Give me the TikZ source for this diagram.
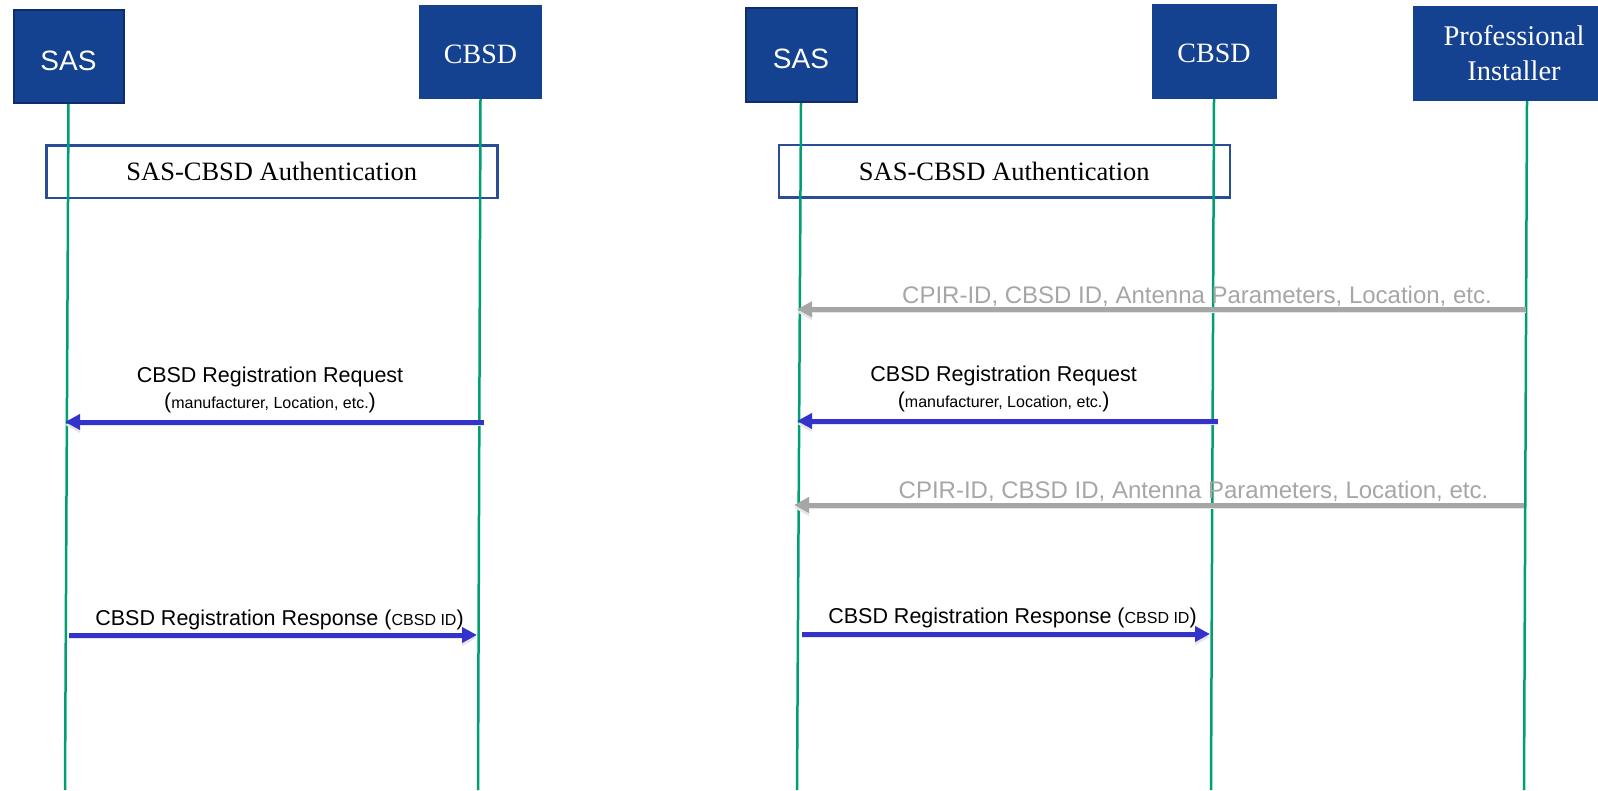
\documentclass[tikz,border=0pt]{standalone}
\usepackage{fontspec}
\setmainfont{Liberation Serif}
\setsansfont{Liberation Sans}
\usetikzlibrary{arrows.meta}

\definecolor{boxblue}{RGB}{21,65,145}
\definecolor{boxedge}{RGB}{14,45,105}
\definecolor{authblue}{RGB}{40,78,150}
\definecolor{lifegreen}{RGB}{0,158,115}
\definecolor{msgblue}{RGB}{51,51,204}
\definecolor{msggray}{RGB}{166,166,166}

\newcommand{\bigparen}[1]{{\fontsize{21.5}{26}\selectfont#1}}
\newcommand{\smalltext}[1]{{\fontsize{16}{19}\selectfont#1}}

\tikzset{
  actor/.style={rectangle, fill=boxblue, text=white, inner sep=0pt, text height=23pt, text depth=0pt, font=\fontsize{28}{34}\selectfont},
  sasbox/.style={actor, draw=boxedge, line width=2pt, text height=27pt, font=\sffamily\fontsize{28}{34}\selectfont},
  auth/.style={rectangle, draw=authblue, line width=2.5pt, inner sep=0pt, minimum width=451pt, minimum height=52.5pt, font=\fontsize{26.5}{32}\selectfont},
  life/.style={draw=lifegreen, line width=2.5pt},
  msg/.style={draw=msgblue, line width=5pt, -{Triangle[length=15pt,width=15pt]}, preaction={draw=black!10, transform canvas={yshift=-3pt}}},
  info/.style={msg, draw=msggray},
  big/.style={font=\sffamily\fontsize{21.5}{26}\selectfont, inner sep=0pt},
  small/.style={font=\sffamily\fontsize{16}{19}\selectfont, inner sep=0pt},
  graytext/.style={font=\sffamily\fontsize{24}{28}\selectfont, text=msggray, inner sep=0pt}
}

\begin{document}
\begin{tikzpicture}[x=1pt,y=-1pt]
      \useasboundingbox (0,0) rectangle (1598,790);

      % BOITES GAUCHE
      \node[sasbox, minimum width=110pt, minimum height=93pt] (SAS) at (68.5,56.5) {SAS};
      \node[actor, minimum width=123pt, minimum height=94pt] (CBSD) at (480.5,52) {CBSD};
      \node[auth] (AUTH) at (271.8,171.5) {SAS-CBSD Authentication};

      % BOITES DROITE
      \node[sasbox, minimum width=111pt, minimum height=94pt] (SAS2) at (801,55) {SAS};
      \node[actor, minimum width=125pt, minimum height=95pt] (CBSD2) at (1214,51.4) {CBSD};
      \node[actor, align=center, text height=, text depth=, font=\fontsize{28.5}{35}\selectfont, minimum width=202pt, minimum height=95pt] (PI2) at (1514,53.4) {Professional\\Installer};
      \node[auth] (AUTH2) at (1004.3,171) {SAS-CBSD Authentication};

      % LIGNES DE VIE
      \coordinate (SASb) at (65,790);
      \coordinate (CBSDb) at (478,790);
      \coordinate (SAS2b) at (797,790);
      \coordinate (CBSD2b) at (1211,790);
      \coordinate (PI2b) at (1524,790);
      \draw[life] (SAS.south) -- (SASb);
      \draw[life] (CBSD.south) -- (CBSDb);
      \draw[life] (SAS2.south) -- (SAS2b);
      \draw[life] (CBSD2.south) -- (CBSD2b);
      \draw[life] ([xshift=13pt]PI2.south) -- (PI2b);

      % MESSAGES GAUCHE
      \node[big, anchor=base] (REQt) at (270,382) {CBSD Registration Request};
      \node[small, anchor=base] (REQs) at (270,408) {\bigparen{(}manufacturer, Location, etc.\bigparen{)}};
      \coordinate (REQ) at (0,422);
      \draw[msg, shorten <=-6pt] (CBSDb |- REQ) -- (SASb |- REQ);

      \node[big, anchor=base] (RESt) at (279.5,625) {CBSD Registration Response (\smalltext{CBSD ID})};
      \coordinate (RES) at (0,635);
      \draw[msg, shorten <=4pt, shorten >=1pt] (SASb |- RES) -- (CBSDb |- RES);

      % MESSAGES DROITE
      \node[graytext, anchor=base] (CPt) at (1197,303) {CPIR-ID, CBSD ID, Antenna Parameters, Location, etc.};
      \coordinate (CP) at (0,309.3);
      \draw[info, shorten <=-2pt] (PI2b |- CP) -- (SAS2b |- CP);

      \node[big, anchor=base] (REQ2t) at (1003.7,381) {CBSD Registration Request};
      \node[small, anchor=base] (REQ2s) at (1003.7,407) {\bigparen{(}manufacturer, Location, etc.\bigparen{)}};
      \coordinate (REQ2) at (0,421);
      \draw[msg, shorten <=-7pt] (CBSD2b |- REQ2) -- (SAS2b |- REQ2);

      \node[graytext, anchor=base] (CP2t) at (1193.5,498) {CPIR-ID, CBSD ID, Antenna Parameters, Location, etc.};
      \coordinate (CP2) at (0,505);
      \draw[info, shorten >=-3pt] (PI2b |- CP2) -- (SAS2b |- CP2);

      \node[big, anchor=base] (RES2t) at (1012.5,623.3) {CBSD Registration Response (\smalltext{CBSD ID})};
      \coordinate (RES2) at (0,634);
      \draw[msg, shorten <=5pt, shorten >=1pt] (SAS2b |- RES2) -- (CBSD2b |- RES2);
\end{tikzpicture}
\end{document}
